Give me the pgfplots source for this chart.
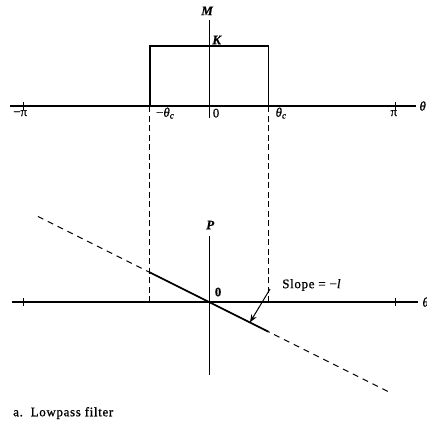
\documentclass[border=0pt]{standalone}
\usepackage{pgfplots}
\pgfplotsset{compat=1.18}
\usepackage{fontspec}
\setmainfont[FakeBold=0.6]{Liberation Serif}
\newfontfamily\widefont[LetterSpace=5, FakeBold=0.8]{Liberation Serif}
\usetikzlibrary{arrows.meta}
\newcommand{\thc}{\textit{θ}\textsubscript{\textit{c}}}
\tikzset{lab/.style={font=\fontsize{13}{15}\selectfont, inner sep=0pt}}

\begin{document}
\begin{tikzpicture}[font=\fontsize{13}{15}\selectfont]
\begin{axis}[
  hide axis, scale only axis, clip=false,
  x=59.21pt, y=59.21pt,
  xmin=-3.53, xmax=3.68, ymin=-2.077, ymax=5.10,
]
% ---------- magnitude response M(theta) ----------
\addplot[black, line width=1.1pt] coordinates {(-3.36,3.31) (3.49,3.31)};   % theta axis
\addplot[black, line width=1.1pt] coordinates {(0,3.11) (0,4.76)};          % M axis
\addplot[black, line width=0.8pt] coordinates {(-3.1416,3.25) (-3.1416,3.37)};
\addplot[black, line width=0.8pt] coordinates {(3.1416,3.25) (3.1416,3.37)};
% ideal lowpass: gain K inside the passband |theta| < theta_c
\addplot[black, line width=1.5pt] coordinates {(-1,3.31) (-1,4.32) (1,4.32) (1,3.31)};

% projection of the cutoff onto the phase plot
\addplot[black, line width=1.0pt, dash pattern=on 6pt off 3.5pt] coordinates {(-1,3.31) (-1,0)};
\addplot[black, line width=1.0pt, dash pattern=on 6pt off 3.5pt] coordinates {(1,3.31) (1,0)};

% ---------- phase response P(theta) ----------
\addplot[black, line width=1.1pt] coordinates {(-3.33,0) (3.53,0)};          % theta axis
\addplot[black, line width=1.1pt] coordinates {(0,1.115) (0,-1.233)};        % P axis
\addplot[black, line width=0.8pt] coordinates {(-3.1416,-0.06) (-3.1416,0.06)};
\addplot[black, line width=0.8pt] coordinates {(3.1416,-0.06) (3.1416,0.06)};
% linear phase, slope -l
\addplot[black, line width=1.0pt, dash pattern=on 6pt off 5pt] coordinates {(-2.89,1.445) (3.09,-1.545)};
\addplot[black, line width=1.6pt] coordinates {(-1,0.5) (1,-0.5)};
\addplot[black, line width=1.0pt, -{Stealth[length=8pt,width=6pt]}] coordinates {(1.03,0.22) (0.69,-0.345)};

% ---------- labels ----------
\node[lab] at (axis cs:-0.03,4.915) {\textbf{\textit{M}}};
\node[lab] at (axis cs:0.135,4.425) {\textbf{\textit{K}}};
\node[lab] at (axis cs:-3.19,3.19) {\textminus π};
\node[lab] at (axis cs:-0.74,3.19) {\textminus\thc};
\node[lab] at (axis cs:0.118,3.19) {0};
\node[lab] at (axis cs:1.216,3.19) {\thc};
\node[lab] at (axis cs:3.12,3.19) {π};
\node[lab, anchor=west] at (axis cs:3.55,3.31) {\textit{θ}};

\node[lab] at (axis cs:0.02,1.30) {\textbf{\textit{P}}};
\node[lab] at (axis cs:0.152,0.169) {\textbf{0}};
\node[lab, anchor=west] at (axis cs:1.233,0.287) {\widefont Slope = \textminus\textit{l}};
\node[lab, anchor=west] at (axis cs:3.6,0) {\textit{θ}};

\node[lab, anchor=west] at (axis cs:-3.31,-1.875) {\widefont a.\ \ Lowpass filter};

\coordinate (bl) at (axis cs:-3.53,-2.077);
\coordinate (tr) at (axis cs:3.68,5.10);
\end{axis}
\pgfresetboundingbox
\path[use as bounding box] (bl) rectangle (tr);
\end{tikzpicture}
\end{document}
